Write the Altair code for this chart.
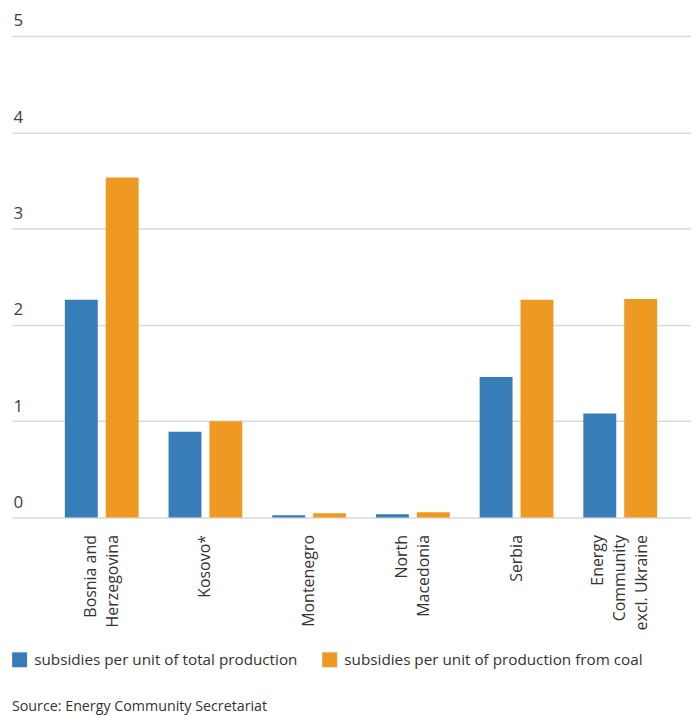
import altair as alt
import pandas as pd

categories = ["Bosnia and|Herzegovina", "Kosovo*", "Montenegro", "North|Macedonia", "Serbia", "Energy|Community|excl. Ukraine"]
series = ["subsidies per unit of total production", "subsidies per unit of production from coal"]
total_production = [2.26, 0.89, 0.025, 0.035, 1.46, 1.08]
coal_production = [3.53, 1.0, 0.045, 0.055, 2.26, 2.27]
colors = ["#377eb8", "#ee9a22"]

rows = []
for i, c in enumerate(categories):
    rows.append({"country": c, "series": series[0], "value": total_production[i]})
    rows.append({"country": c, "series": series[1], "value": coal_production[i]})
df = pd.DataFrame(rows)

FONT = "Open Sans"

chart = alt.Chart(df).mark_bar().encode(
    x=alt.X("country:N", sort=categories,
            scale=alt.Scale(paddingInner=0, paddingOuter=0.274, align=0.667),
            axis=alt.Axis(title=None, labelAngle=-90, labelExpr="split(datum.label, '|')",
                          labelFontSize=16, labelFont=FONT, labelColor="#333333",
                          labelPadding=17, labelLineHeight=22,
                          labelOffset={"expr": "-(length(split(datum.value, '|')) - 1) * 11"},
                          domain=False, ticks=False)),
    xOffset=alt.XOffset("series:N", sort=series,
                        scale=alt.Scale(paddingInner=0.195, paddingOuter=0.366)),
    y=alt.Y("value:Q", scale=alt.Scale(domain=[0, 5], nice=False),
            axis=alt.Axis(title=None, values=[0, 1, 2, 3, 4, 5], format="d",
                          labelAlign="left", labelBaseline="alphabetic", labelPadding=-1,
                          labelOffset=-10, labelFontSize=17, labelFont=FONT, labelColor="#404040",
                          domain=False, ticks=False, grid=True,
                          gridColor="#d9d9d9", gridWidth=1.5)),
    color=alt.Color("series:N", sort=series,
                    scale=alt.Scale(domain=series, range=colors),
                    legend=alt.Legend(title=None, orient="none", legendX=0, legendY=618,
                                      direction="horizontal", symbolType="square",
                                      symbolSize=225, symbolStrokeWidth=0, symbolOpacity=1,
                                      labelFontSize=15.3, labelFont=FONT, labelColor="#333333",
                                      labelOffset=7, columnPadding=24, labelLimit=400)),
).properties(
    width=681,
    height=483,
    padding={"left": 4, "top": 27, "right": 0, "bottom": 200},
    autosize=alt.AutoSizeParams(type="none"),
    title=alt.TitleParams("Source: Energy Community Secretariat", orient="bottom", anchor="start",
                          fontSize=14.3, font=FONT, fontWeight="normal", color="#333333", offset=32),
).configure_view(stroke=None)

chart.save("out.html", embed_options={"renderer": "svg", "actions": False})
